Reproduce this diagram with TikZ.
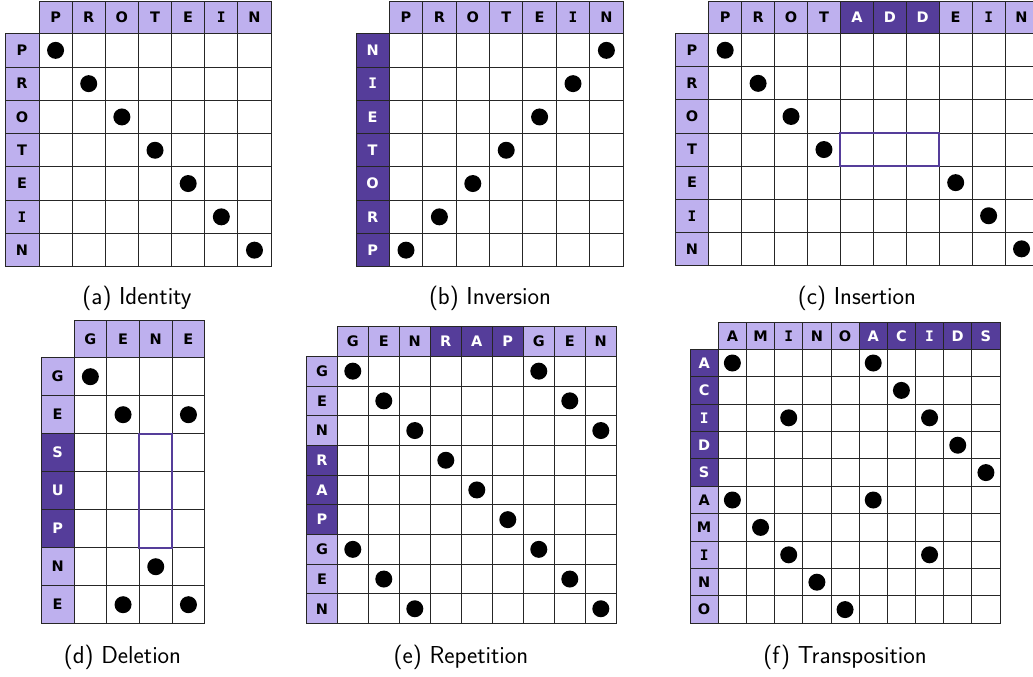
\documentclass[tikz,border=0pt]{standalone}
\usepackage{fontspec}
\newfontfamily\lablfont{DejaVu Sans}
\newfontfamily\labmfont{DejaVu Sans Mono}
\definecolor{lightp}{RGB}{190,176,238}
\definecolor{darkp}{RGB}{85,61,154}
\newcommand{\mI}{{\labmfont\bfseries I}}
\tikzset{
  cellbox/.style={draw=black!85, line width=0.9pt, inner sep=0pt, outer sep=0pt, fill=white},
  labtext/.style={font=\lablfont\bfseries\fontsize{14.5}{16}\selectfont},
  lab0/.style={cellbox, labtext, fill=lightp, text=black},
  lab1/.style={cellbox, labtext, fill=darkp, text=white},
  dotmark/.style={circle, fill=black, draw=none, inner sep=0pt, minimum size=17pt},
  hlbox/.style={draw=darkp, line width=2pt},
  captext/.style={font=\sffamily\fontsize{24.5}{28}\selectfont, inner sep=0pt}
}
% #1 name, #2 x0, #3 y0, #4 label width, #5 header height, #6 cell w, #7 cell h, #8 cols, #9 rows
\newcommand{\mkpanel}[9]{%
  \foreach \la/\da [count=\cc] in {#8} {
    \node[lab\da, minimum width=#6pt, minimum height=#5pt] (#1-h\cc)
      at ({#2+#4+(\cc-0.5)*#6},{#3+#5/2}) {\la};
  }
  \foreach \lb/\db [count=\rr] in {#9} {
    \node[lab\db, minimum width=#4pt, minimum height=#7pt] (#1-v\rr)
      at ({#2+#4/2},{#3+#5+(\rr-0.5)*#7}) {\lb};
    \foreach \lc/\dc [count=\cc] in {#8} {
      \node[cellbox, minimum width=#6pt, minimum height=#7pt] (#1-\rr-\cc)
        at ({#2+#4+(\cc-0.5)*#6},{#3+#5+(\rr-0.5)*#7}) {};
    }
  }
}
\begin{document}
\begin{tikzpicture}[x=1pt,y=-1pt]
\fill[white] (0,0) rectangle (1033,677);
\useasboundingbox (0,0) rectangle (1033,677);

% (a) Identity
\mkpanel{a}{5}{1}{34}{32.7}{33.15}{33.3}
  {P/0,R/0,O/0,T/0,E/0,\mI/0,N/0}{P/0,R/0,O/0,T/0,E/0,\mI/0,N/0}
\foreach \r/\c [count=\k] in {1/1,2/2,3/3,4/4,5/5,6/6,7/7}
  \node[dotmark] (a-d\k) at (a-\r-\c) {};
\node[captext] (a-cap) at (137,298) {(a) Identity};

% (b) Inversion
\mkpanel{b}{356}{1}{33.3}{32.7}{33.4}{33.3}
  {P/0,R/0,O/0,T/0,E/0,\mI/0,N/0}{N/1,\mI/1,E/1,T/1,O/1,R/1,P/1}
\foreach \r/\c [count=\k] in {1/7,2/6,3/5,4/4,5/3,6/2,7/1}
  \node[dotmark] (b-d\k) at (b-\r-\c) {};
\node[captext] (b-cap) at (490,298) {(b) Inversion};

% (c) Insertion
\mkpanel{c}{675.3}{1}{33.4}{32.7}{32.93}{33.1}
  {P/0,R/0,O/0,T/0,A/1,D/1,D/1,E/0,\mI/0,N/0}{P/0,R/0,O/0,T/0,E/0,\mI/0,N/0}
\foreach \r/\c [count=\k] in {1/1,2/2,3/3,4/4,5/8,6/9,7/10}
  \node[dotmark] (c-d\k) at (c-\r-\c) {};
\draw[hlbox] (c-4-5.north west) rectangle (c-4-7.south east);
\node[captext] (c-cap) at (857,298) {(c) Insertion};

% (d) Deletion
\mkpanel{d}{41.3}{320}{32.7}{37.7}{32.7}{38}
  {G/0,E/0,N/0,E/0}{G/0,E/0,S/1,U/1,P/1,N/0,E/0}
\foreach \r/\c [count=\k] in {1/1,2/2,2/4,6/3,7/2,7/4}
  \node[dotmark] (d-d\k) at (d-\r-\c) {};
\draw[hlbox] (d-3-3.north west) rectangle (d-5-3.south east);
\node[captext] (d-cap) at (122.5,657) {(d) Deletion};

% (e) Repetition
\mkpanel{e}{306.7}{326.7}{30.6}{29.6}{31}{29.7}
  {G/0,E/0,N/0,R/1,A/1,P/1,G/0,E/0,N/0}{G/0,E/0,N/0,R/1,A/1,P/1,G/0,E/0,N/0}
\foreach \r/\c [count=\k] in {1/1,1/7,2/2,2/8,3/3,3/9,4/4,5/5,6/6,7/1,7/7,8/2,8/8,9/3,9/9}
  \node[dotmark] (e-d\k) at (e-\r-\c) {};
\node[captext] (e-cap) at (461,657) {(e) Repetition};

% (f) Transposition
\mkpanel{f}{690}{322.3}{28.3}{27}{28.17}{27.4}
  {A/0,M/0,\mI/0,N/0,O/0,A/1,C/1,\mI/1,D/1,S/1}{A/1,C/1,\mI/1,D/1,S/1,A/0,M/0,\mI/0,N/0,O/0}
\foreach \r/\c [count=\k] in {1/1,1/6,2/7,3/3,3/8,4/9,5/10,6/1,6/6,7/2,8/3,8/8,9/4,10/5}
  \node[dotmark] (f-d\k) at (f-\r-\c) {};
\node[captext] (f-cap) at (845,657) {(f) Transposition};
\end{tikzpicture}
\end{document}
